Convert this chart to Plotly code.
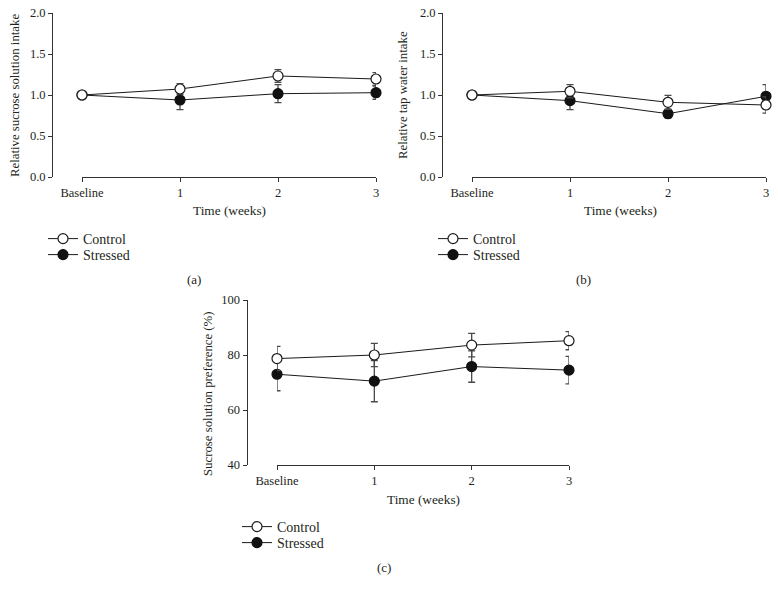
import plotly.graph_objects as go

# ---------------- data ----------------
weeks = [0, 1, 2, 3]
week_labels = ["Baseline", "1", "2", "3"]

a_control = [1.0, 1.073, 1.232, 1.195]
a_control_err = [0, 0.065, 0.077, 0.077]
a_stressed = [1.0, 0.939, 1.016, 1.028]
a_stressed_err = [0, 0.118, 0.11, 0.08]

b_control = [1.0, 1.045, 0.911, 0.878]
b_control_err = [0, 0.081, 0.085, 0.098]
b_stressed = [1.0, 0.931, 0.772, 0.984]
b_stressed_err = [0, 0.11, 0.05, 0.142]

c_control = [78.7, 80.0, 83.6, 85.2]
c_control_err = [4.4, 4.2, 4.3, 3.3]
c_stressed = [73.0, 70.5, 75.8, 74.5]
c_stressed_err = [6.0, 7.5, 5.7, 5.0]

y_titles = ["Relative sucrose solution intake", "Relative tap water intake",
            "Sucrose solution preference (%)"]
x_title = "Time (weeks)"
panel_labels = ["(a)", "(b)", "(c)"]
series_names = ["Control", "Stressed"]

# ---------------- layout helpers ----------------
W, H = 778, 592
OFF = 0  # body margin removed by post_script below
FONT = "Liberation Serif, Times New Roman, serif"
TXT = "#231f20"
AX = "#333333"


def px_x(p):
    return (p - OFF) / W


def px_y(p):
    return 1 - (p - OFF) / H


fig = go.Figure()

panels = [
    (a_control, a_control_err, a_stressed, a_stressed_err, "", 82, 376, 13, 177, 52, [0, 2], 0.5),
    (b_control, b_control_err, b_stressed, b_stressed_err, "2", 472, 766, 13, 177, 442, [0, 2], 0.5),
    (c_control, c_control_err, c_stressed, c_stressed_err, "3", 277, 569, 300, 465, 246.5, [40, 100], 20),
]

legend_rows = [(43, 223, 239), (433, 223, 239), (237, 511, 527)]

for i, (ctl, cerr, st, serr, sfx, x0, x1, yt, yb, yl, yr, dt) in enumerate(panels):
    xa = "x" + sfx
    ya = "y" + sfx
    lg_c = "legend" if i == 0 else "legend%d" % (2 * i + 1)
    lg_s = "legend%d" % (2 * i + 2)
    fig.add_trace(go.Scatter(
        x=weeks, y=st, name=series_names[1], mode="lines+markers",
        xaxis=xa, yaxis=ya, legend=lg_s, cliponaxis=False,
        line=dict(color="#1a1a1a", width=1),
        marker=dict(symbol="circle", size=10, color="#111111",
                    line=dict(color="#111111", width=1.2)),
        error_y=dict(type="data", array=serr, visible=True, color="#4a4a4a",
                     thickness=1.3, width=3.5),
    ))
    fig.add_trace(go.Scatter(
        x=weeks, y=ctl, name=series_names[0], mode="lines+markers",
        xaxis=xa, yaxis=ya, legend=lg_c, cliponaxis=False,
        line=dict(color="#1a1a1a", width=1),
        marker=dict(symbol="circle", size=10, color="white",
                    line=dict(color="#1a1a1a", width=1.2)),
        error_y=dict(type="data", array=cerr, visible=True, color="#4a4a4a",
                     thickness=1.3, width=3.5),
    ))

    xkey = "xaxis" + sfx
    ykey = "yaxis" + sfx
    fig.layout[xkey] = dict(
        domain=[px_x(x0), px_x(x1)], anchor=ya, range=[0, 3],
        tickmode="array", tickvals=weeks, ticktext=week_labels,
        showline=True, linecolor=AX, linewidth=1, ticks="outside",
        ticklen=4, tickcolor=AX, tickwidth=1, showgrid=False, zeroline=False,
        tickfont=dict(family=FONT, size=12.5, color=TXT), fixedrange=True,
        automargin=False, ticklabeloverflow="allow",
    )
    fig.layout[ykey] = dict(
        domain=[px_y(yb), px_y(yt)], anchor="free", position=px_x(yl),
        range=yr, dtick=dt, tick0=yr[0],
        tickformat=".1f" if dt < 1 else "d",
        showline=True, linecolor=AX, linewidth=1, ticks="outside",
        ticklen=4, tickcolor=AX, tickwidth=1, showgrid=False, zeroline=False,
        tickfont=dict(family=FONT, size=12.5, color=TXT), fixedrange=True,
        automargin=False, ticklabeloverflow="allow",
    )

    lx, ly_c, ly_s = legend_rows[i]
    for name, ly in ((lg_c, ly_c), (lg_s, ly_s)):
        fig.layout[name] = dict(
            x=px_x(lx), y=px_y(ly), xanchor="left", yanchor="top",
            bgcolor="rgba(0,0,0,0)", borderwidth=0, tracegroupgap=0,
            font=dict(family=FONT, size=14, color=TXT), itemclick=False,
            itemdoubleclick=False,
        )

annotations = []
for (cx, cy) in [(229, 211), (620, 211), (423, 499)]:
    annotations.append(dict(x=px_x(cx), y=px_y(cy), xref="paper", yref="paper",
                            text=x_title, showarrow=False, xanchor="center",
                            yanchor="middle",
                            font=dict(family=FONT, size=13.3, color=TXT)))
for (cx, cy), t in zip([(15, 96), (403, 95), (208, 393)], y_titles):
    annotations.append(dict(x=px_x(cx), y=px_y(cy), xref="paper", yref="paper",
                            text=t, showarrow=False, textangle=-90,
                            xanchor="center", yanchor="middle",
                            font=dict(family=FONT, size=12.8, color=TXT)))
for (cx, cy), t in zip([(194, 279), (583, 279), (384, 567)], panel_labels):
    annotations.append(dict(x=px_x(cx), y=px_y(cy), xref="paper", yref="paper",
                            text=t, showarrow=False, xanchor="center",
                            yanchor="middle",
                            font=dict(family=FONT, size=13, color=TXT)))

fig.update_layout(
    width=W, height=H,
    margin=dict(l=0, r=0, t=0, b=0, pad=0, autoexpand=False),
    paper_bgcolor="white", plot_bgcolor="white",
    annotations=annotations, showlegend=True, hovermode=False,
    font=dict(family=FONT, color=TXT),
)

fig.write_html(
    "out.html",
    config={"displayModeBar": False},
    post_script="document.body.style.margin='0';document.body.style.overflow='hidden';",
)
